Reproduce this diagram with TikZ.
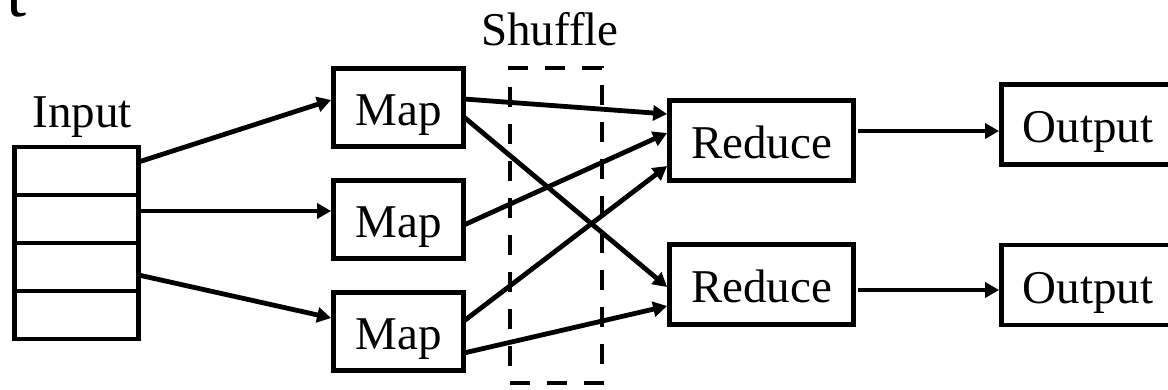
\documentclass[tikz,border=0pt]{standalone}
\usepackage{fontspec}
\setmainfont{Liberation Serif}
\usetikzlibrary{arrows.meta, positioning}

\begin{document}
\begin{tikzpicture}[x=0.5pt, y=-0.5pt, line width=2.4pt,
        every node/.style={font=\fontsize{23.5}{28}\selectfont},
        box/.style={draw, rectangle, inner sep=0pt, text height=18pt, text depth=0pt},
        cell/.style={draw, rectangle, outer sep=0pt, minimum width=62pt, minimum height=24pt},
        flow/.style={-{Triangle[length=7pt, width=7.5pt]}}]
            \useasboundingbox (0,0) rectangle (1168,390);

            \node[anchor=base west, inner sep=0pt, font=\fontsize{36}{40}\selectfont] (cut) at (4,17) {t};

            % input blocks
            \node[anchor=base] (inputlabel) at (82,127) {Input};
            \node[cell] (cell1) at (76.5,171) {};
            \node[cell, below=0pt of cell1] (cell2) {};
            \node[cell, below=0pt of cell2] (cell3) {};
            \node[cell, below=0pt of cell3] (cell4) {};

            % map, shuffle, reduce, output
            \node[box, minimum width=65pt, minimum height=39pt] (map1) at (398.5,107.5) {Map};
            \node[box, minimum width=65pt, minimum height=39pt] (map2) at (398.5,219.5) {Map};
            \node[box, minimum width=65pt, minimum height=39pt] (map3) at (398.5,331.5) {Map};

            \node[draw, dash pattern=on 10pt off 8.5pt, minimum width=46pt, minimum height=157.5pt] (shufflebox) at (556,225.5) {};
            \node[anchor=base] (shufflelabel) at (550,46) {Shuffle};

            \node[box, minimum width=92pt, minimum height=40pt] (reduce1) at (761.5,140.5) {Reduce};
            \node[box, minimum width=92pt, minimum height=40pt] (reduce2) at (761.5,284.5) {Reduce};

            \node[box, minimum width=86.5pt, minimum height=40pt] (output1) at (1088,124.5) {Output};
            \node[box, minimum width=86.5pt, minimum height=40pt] (output2) at (1088,285) {Output};

            \draw[flow] ([yshift=4.5pt]cell1.east) -- ([yshift=3.75pt]map1.west);
            \draw[flow] ([yshift=4pt]cell2.east) -- ([yshift=4.25pt]map2.west);
            \draw[flow] ([yshift=-4pt]cell3.east) -- ([yshift=6.75pt]map3.west);

            \draw[flow] ([xshift=-1pt, yshift=4.25pt]map1.east) -- ([yshift=13.25pt]reduce1.west);
            \draw[flow] ([xshift=-1pt, yshift=-4.75pt]map1.east) -- ([yshift=-1.25pt]reduce2.west);
            \draw[flow] ([xshift=-1pt, yshift=-2.75pt]map2.east) -- ([yshift=3.75pt]reduce1.west);
            \draw[flow] ([xshift=-1pt, yshift=5.25pt]map3.east) -- ([yshift=-12.75pt]reduce1.west);
            \draw[flow] ([xshift=-1pt, yshift=-10.75pt]map3.east) -- ([yshift=-10.75pt]reduce2.west);

            \draw[flow] ([xshift=1pt, yshift=4.75pt]reduce1.east) -- ([yshift=-3.25pt]output1.west);
            \draw[flow] ([xshift=1pt, yshift=-2.75pt]reduce2.east) -- ([yshift=-2.5pt]output2.west);
        \end{tikzpicture}
\end{document}
